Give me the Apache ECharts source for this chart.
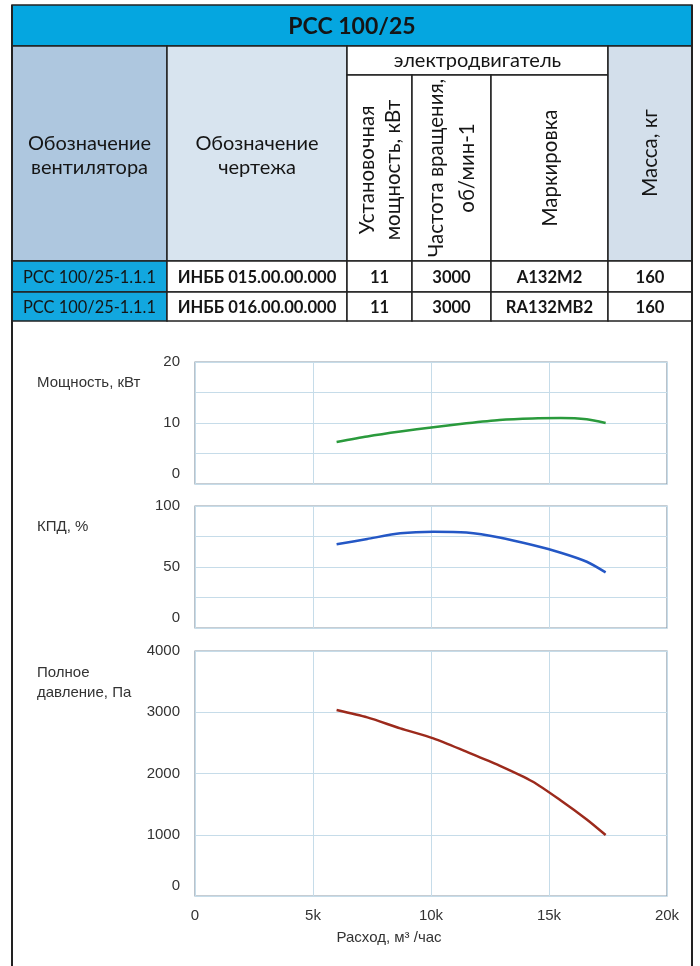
<!DOCTYPE html>
<html>
<head>
<meta charset="utf-8">
<script src="https://cdn.jsdelivr.net/npm/echarts@6/dist/echarts.min.js"></script>
<style>
html,body{margin:0;padding:0;background:#fff;}
#c{width:700px;height:966px;}
</style>
</head>
<body>
<div id="c"></div>
<script>
// ---------- data ----------
const tableTitle = 'РСС 100/25';
const headerFan = 'Обозначение\nвентилятора';
const headerDrawing = 'Обозначение\nчертежа';
const headerMotor = 'электродвигатель';
const headerPower = 'Установочная\nмощность, кВт';
const headerSpeed = 'Частота вращения,\nоб/мин-1';
const headerMark = 'Маркировка';
const headerMass = 'Масса, кг';
const rowFan = ['РСС 100/25-1.1.1', 'РСС 100/25-1.1.1'];
const rowDrawing = ['ИНББ 015.00.00.000', 'ИНББ 016.00.00.000'];
const rowPower = ['11', '11'];
const rowSpeed = ['3000', '3000'];
const rowMark = ['A132M2', 'RA132MB2'];
const rowMass = ['160', '160'];

const flow = [6000, 7300, 8700, 10100, 11500, 12900, 14300, 15500, 16600, 17400];
const powerKW = [6.9, 7.8, 8.6, 9.3, 9.95, 10.5, 10.75, 10.8, 10.6, 10.0];
const efficiency = [68.6, 73.0, 77.6, 78.9, 78.2, 74.2, 68.0, 61.7, 54.3, 45.6];
const pressure = [3037, 2916, 2737, 2574, 2356, 2130, 1870, 1560, 1250, 996];

const yTitlePower = 'Мощность, кВт';
const yTitleEff = 'КПД, %';
const yTitlePress = 'Полное\nдавление, Па';
const xTitle = 'Расход, м³ /час';

// ---------- layout ----------
const colX = [12, 167, 347, 412, 491, 608, 692];
const rowY = {titleTop: 5, headTop: 46, subBot: 75, headBot: 261, r1: 292, r2: 321};
const BORDER = '#222';
const TFONT = 'Lato, "Noto Sans", sans-serif';
const CFONT = '"Liberation Sans", Arial, sans-serif';

const g = [];
function rect(x, y, w, h, fill) {
  g.push({type: 'rect', shape: {x, y, width: w, height: h},
    style: {fill, stroke: BORDER, lineWidth: 1.5}, z: 1});
}
function text(t, x, y, opt) {
  opt = opt || {};
  g.push({type: 'text', x, y, rotation: opt.rot || 0, z: 5,
    style: {text: t, x: 0, y: 0, align: opt.align || 'center', verticalAlign: 'middle',
      fontSize: opt.size || 16, fontWeight: opt.weight || 'normal',
      fontFamily: opt.family || TFONT, fill: opt.color || '#151515',
      lineHeight: opt.lh || Math.round((opt.size || 16) * 1.25)}});
}
function line(x1, y1, x2, y2, w, c) {
  g.push({type: 'line', shape: {x1, y1, x2, y2}, style: {stroke: c || BORDER, lineWidth: w || 2}, z: 6});
}

// title bar
rect(colX[0], rowY.titleTop, colX[6] - colX[0], rowY.headTop - rowY.titleTop, '#05A6E0');
text(tableTitle, (colX[0] + colX[6]) / 2, (rowY.titleTop + rowY.headTop) / 2 + 1, {size: 23, weight: 'bold'});

// header cells
const hh = rowY.headBot - rowY.headTop;
rect(colX[0], rowY.headTop, colX[1] - colX[0], hh, '#AEC7DF');
rect(colX[1], rowY.headTop, colX[2] - colX[1], hh, '#D8E4EF');
rect(colX[2], rowY.headTop, colX[5] - colX[2], rowY.subBot - rowY.headTop, '#FFFFFF');
for (let i = 2; i < 5; i++) rect(colX[i], rowY.subBot, colX[i + 1] - colX[i], rowY.headBot - rowY.subBot, '#FFFFFF');
rect(colX[5], rowY.headTop, colX[6] - colX[5], hh, '#D3DFEB');

text(headerFan, (colX[0] + colX[1]) / 2, 156, {size: 20, lh: 24});
text(headerDrawing, (colX[1] + colX[2]) / 2, 156, {size: 20, lh: 24});
text(headerMotor, (colX[2] + colX[5]) / 2, 61, {size: 20});
text(headerPower, (colX[2] + colX[3]) / 2 + 1, 170, {size: 20.5, rot: Math.PI / 2, lh: 26});
text(headerSpeed, (colX[3] + colX[4]) / 2, 168, {size: 20.5, rot: Math.PI / 2, lh: 31});
text(headerMark, (colX[4] + colX[5]) / 2 + 1, 168, {size: 20.5, rot: Math.PI / 2});
text(headerMass, (colX[5] + colX[6]) / 2, 153, {size: 20.5, rot: Math.PI / 2});

// data rows
const rows = [rowFan, rowDrawing, rowPower, rowSpeed, rowMark, rowMass];
const rTops = [rowY.headBot, rowY.r1];
const rBots = [rowY.r1, rowY.r2];
for (let r = 0; r < 2; r++) {
  for (let c = 0; c < 6; c++) {
    rect(colX[c], rTops[r], colX[c + 1] - colX[c], rBots[r] - rTops[r], c === 0 ? '#12A7DF' : '#FFFFFF');
    text(rows[c][r], (colX[c] + colX[c + 1]) / 2, (rTops[r] + rBots[r]) / 2 + 1,
      {size: c === 0 ? 16.4 : 16.6, weight: c === 0 ? 'normal' : 'bold'});
  }
}

// outer frame below the table
line(colX[0], rowY.titleTop, colX[0], 966, 2);
line(colX[6], rowY.titleTop, colX[6], 966, 2);

// axis titles
text(yTitlePower, 37, 383, {size: 15, align: 'left', family: CFONT, color: '#333'});
text(yTitleEff, 37, 527, {size: 15, align: 'left', family: CFONT, color: '#333'});
text(yTitlePress, 37, 683, {size: 15, align: 'left', family: CFONT, color: '#333', lh: 20});
text(xTitle, 389, 938, {size: 15, family: CFONT, color: '#333'});

// ---------- charts ----------
const grids = [
  {left: 195, top: 362, width: 472, height: 122},
  {left: 195, top: 506, width: 472, height: 122},
  {left: 195, top: 651, width: 472, height: 245}
].map(o => Object.assign(o, {show: true, borderColor: '#8D9BA8', borderWidth: 1.2, backgroundColor: 'transparent'}));

const labelStyle = {color: '#333', fontSize: 15, fontFamily: CFONT};
const splitStyle = {lineStyle: {color: '#C6DCE9', width: 1}};

function xAx(i, showLabel) {
  return {type: 'value', gridIndex: i, min: 0, max: 20000, interval: 5000,
    axisLine: {show: false}, axisTick: {show: false}, splitLine: splitStyle,
    axisLabel: Object.assign({show: showLabel, margin: 12,
      formatter: v => v === 0 ? '0' : (v / 1000) + 'k'}, labelStyle)};
}
function yAx(i, max, interval, labelEvery) {
  return {type: 'value', gridIndex: i, min: 0, max, interval,
    axisLine: {show: false}, axisTick: {show: false}, splitLine: splitStyle,
    axisLabel: Object.assign({margin: 15,
      formatter: v => v === 0 ? '{z|0}' : (v % labelEvery === 0 ? String(v) : ''),
      rich: {z: Object.assign({padding: [0, 0, 20, 0]}, labelStyle)}}, labelStyle)};
}
function pairs(ys) { return flow.map((x, i) => [x, ys[i]]); }
function ser(i, ys, color) {
  return {type: 'line', xAxisIndex: i, yAxisIndex: i, data: pairs(ys), smooth: 0.25,
    showSymbol: false, symbol: 'none',
    lineStyle: {color, width: 2.5}, silent: true, animation: false};
}

const chart = echarts.init(document.getElementById('c'), null, {renderer: 'canvas'});
chart.setOption({
  animation: false,
  backgroundColor: '#ffffff',
  grid: grids,
  xAxis: [xAx(0, false), xAx(1, false), xAx(2, true)],
  yAxis: [yAx(0, 20, 5, 10), yAx(1, 100, 25, 50), yAx(2, 4000, 1000, 1000)],
  series: [
    ser(0, powerKW, '#2A9A3C'),
    ser(1, efficiency, '#2457C5'),
    ser(2, pressure, '#9C2A1C')
  ],
  graphic: g
});
</script>
</body>
</html>
